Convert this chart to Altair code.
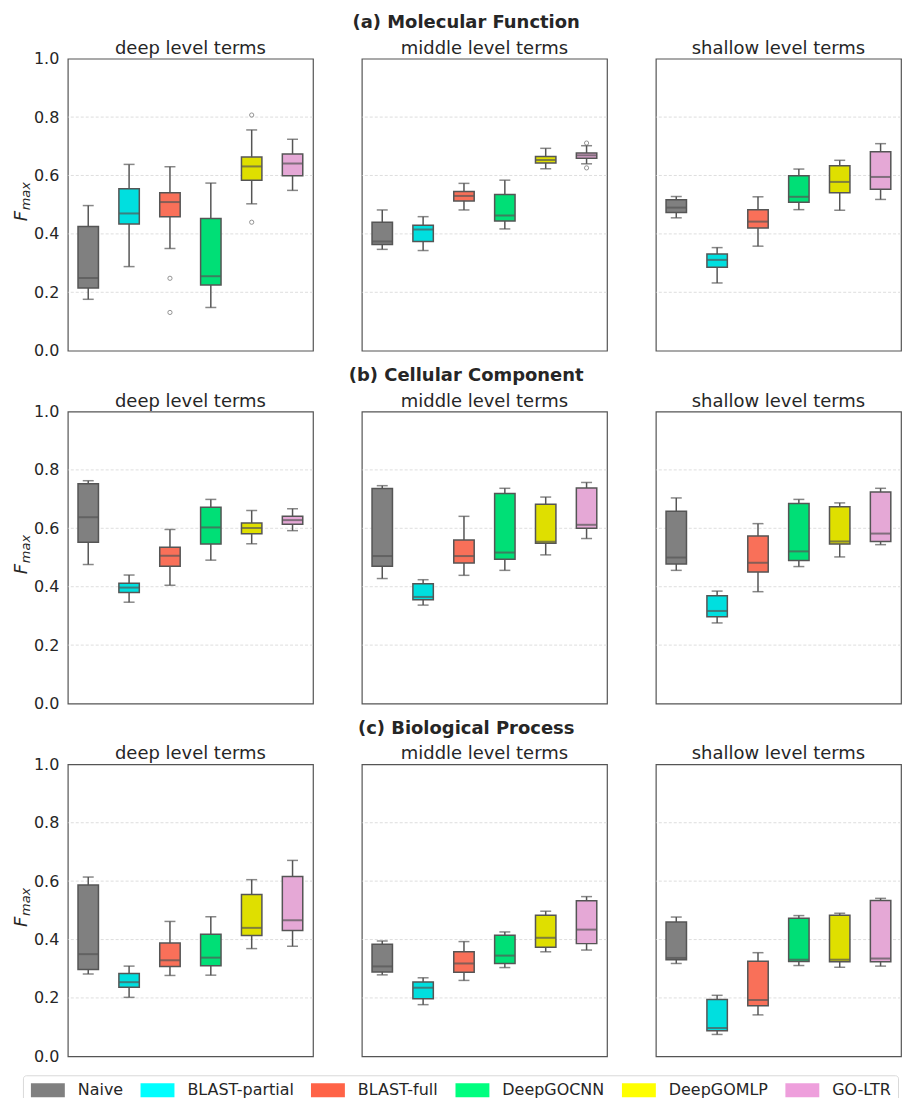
import altair as alt
import pandas as pd

methods = ["Naive", "BLAST-partial", "BLAST-full", "DeepGOCNN", "DeepGOMLP", "GO-LTR"]
box_colors = ["#808080", "#00dfdf", "#f97059", "#00df76", "#dfdf00", "#e5a8d6"]
legend_colors = ["#808080", "#00ffff", "#ff6347", "#00ff7f", "#ffff00", "#ee9fdc"]
sections = ["(a) Molecular Function", "(b) Cellular Component", "(c) Biological Process"]
levels = ["deep level terms", "middle level terms", "shallow level terms"]

# each row: [lower whisker, q1, median, q3, upper whisker] per method
mf_deep = [
    [0.176, 0.215, 0.249, 0.425, 0.497],
    [0.288, 0.434, 0.470, 0.555, 0.638],
    [0.350, 0.459, 0.509, 0.541, 0.630],
    [0.148, 0.225, 0.255, 0.453, 0.574],
    [0.503, 0.584, 0.631, 0.663, 0.756],
    [0.549, 0.599, 0.641, 0.674, 0.724],
]
mf_middle = [
    [0.347, 0.364, 0.374, 0.440, 0.482],
    [0.343, 0.374, 0.415, 0.430, 0.459],
    [0.482, 0.513, 0.530, 0.545, 0.573],
    [0.417, 0.444, 0.463, 0.535, 0.584],
    [0.623, 0.643, 0.653, 0.665, 0.693],
    [0.640, 0.659, 0.669, 0.677, 0.702],
]
mf_shallow = [
    [0.455, 0.473, 0.490, 0.517, 0.528],
    [0.232, 0.286, 0.311, 0.331, 0.353],
    [0.358, 0.420, 0.442, 0.483, 0.527],
    [0.483, 0.508, 0.527, 0.599, 0.622],
    [0.481, 0.541, 0.578, 0.633, 0.652],
    [0.518, 0.553, 0.595, 0.681, 0.709],
]
cc_deep = [
    [0.476, 0.552, 0.638, 0.753, 0.763],
    [0.347, 0.380, 0.397, 0.412, 0.440],
    [0.405, 0.470, 0.506, 0.535, 0.596],
    [0.491, 0.546, 0.603, 0.672, 0.699],
    [0.547, 0.581, 0.601, 0.618, 0.661],
    [0.592, 0.614, 0.628, 0.641, 0.667],
]
cc_middle = [
    [0.428, 0.470, 0.505, 0.736, 0.746],
    [0.337, 0.355, 0.365, 0.410, 0.424],
    [0.439, 0.481, 0.505, 0.560, 0.641],
    [0.456, 0.494, 0.517, 0.719, 0.737],
    [0.509, 0.549, 0.554, 0.682, 0.707],
    [0.565, 0.600, 0.612, 0.738, 0.757],
]
cc_shallow = [
    [0.456, 0.478, 0.500, 0.658, 0.704],
    [0.276, 0.297, 0.317, 0.369, 0.385],
    [0.383, 0.450, 0.482, 0.574, 0.616],
    [0.469, 0.490, 0.521, 0.685, 0.699],
    [0.502, 0.546, 0.555, 0.674, 0.687],
    [0.544, 0.555, 0.582, 0.724, 0.737],
]
bp_deep = [
    [0.282, 0.297, 0.350, 0.587, 0.614],
    [0.202, 0.237, 0.254, 0.284, 0.309],
    [0.277, 0.308, 0.329, 0.388, 0.462],
    [0.278, 0.310, 0.338, 0.418, 0.478],
    [0.369, 0.414, 0.440, 0.554, 0.605],
    [0.377, 0.431, 0.466, 0.616, 0.671],
]
bp_middle = [
    [0.279, 0.289, 0.308, 0.384, 0.395],
    [0.177, 0.197, 0.235, 0.255, 0.269],
    [0.260, 0.288, 0.318, 0.358, 0.393],
    [0.304, 0.318, 0.345, 0.415, 0.426],
    [0.358, 0.374, 0.406, 0.483, 0.497],
    [0.364, 0.386, 0.434, 0.533, 0.547],
]
bp_shallow = [
    [0.318, 0.331, 0.337, 0.460, 0.477],
    [0.075, 0.088, 0.097, 0.195, 0.209],
    [0.142, 0.173, 0.193, 0.326, 0.355],
    [0.311, 0.325, 0.331, 0.473, 0.482],
    [0.305, 0.324, 0.331, 0.483, 0.490],
    [0.309, 0.324, 0.335, 0.534, 0.541],
]
panels = [
    [mf_deep, mf_middle, mf_shallow],
    [cc_deep, cc_middle, cc_shallow],
    [bp_deep, bp_middle, bp_shallow],
]

# outliers: section index, level index, method, value
outlier_section = [0, 0, 0, 0, 0, 0]
outlier_level = [0, 0, 0, 0, 1, 1]
outlier_method = ["BLAST-full", "BLAST-full", "DeepGOMLP", "DeepGOMLP", "GO-LTR", "GO-LTR"]
outlier_value = [0.248, 0.131, 0.807, 0.440, 0.711, 0.626]

grid_values = [0.2, 0.4, 0.6, 0.8]
y_ticks = [0.0, 0.2, 0.4, 0.6, 0.8, 1.0]

PW, PH = 246, 293
FONT = "DejaVu Sans"
TXT = "#262626"
LINE = "#555555"


def panel(si, li):
    stats = panels[si][li]
    df = pd.DataFrame({
        "method": methods,
        "lo": [r[0] for r in stats],
        "q1": [r[1] for r in stats],
        "med": [r[2] for r in stats],
        "q3": [r[3] for r in stats],
        "hi": [r[4] for r in stats],
    })
    odf = pd.DataFrame({
        "method": [m for s, l, m in zip(outlier_section, outlier_level, outlier_method) if s == si and l == li],
        "v": [v for s, l, v in zip(outlier_section, outlier_level, outlier_value) if s == si and l == li],
    })
    yscale = alt.Scale(domain=[0, 1], nice=False, zero=False)
    if li == 0:
        yaxis = alt.Axis(values=y_ticks, format=".1f", grid=False, ticks=False, domain=False,
                         labelFontSize=16, labelFont=FONT, labelColor=TXT, labelPadding=9, title=None)
    else:
        yaxis = None

    def Y(f):
        return alt.Y(f"{f}:Q", scale=yscale, axis=yaxis)

    xenc = alt.X("method:N", sort=methods,
                 scale=alt.Scale(domain=methods, paddingInner=0, paddingOuter=0), axis=None)

    grid = alt.Chart(pd.DataFrame({"v": grid_values})).mark_rule(
        color="#d6d6d6", strokeDash=[3, 2], strokeWidth=0.8).encode(y=Y("v"))
    base = alt.Chart(df).encode(x=xenc)
    whisk = base.mark_rule(color=LINE, strokeWidth=1.5).encode(y=Y("lo"), y2="hi:Q")
    box = base.mark_bar(width=alt.RelativeBandSize(0.5), stroke=LINE, strokeWidth=1.5).encode(
        y=Y("q1"), y2="q3:Q",
        fill=alt.Fill("method:N", scale=alt.Scale(domain=methods, range=box_colors), legend=None))
    med = base.mark_tick(color=LINE, thickness=2, size=20).encode(y=Y("med"))
    cap_lo = base.mark_tick(color=LINE, thickness=1.5, size=11).encode(y=Y("lo"))
    cap_hi = base.mark_tick(color=LINE, thickness=1.5, size=11).encode(y=Y("hi"))
    layers = [grid, whisk, box, med, cap_lo, cap_hi]
    if len(odf):
        pts = alt.Chart(odf).mark_point(shape="circle", filled=False, size=18, color="#666666",
                                        strokeWidth=1).encode(x=xenc, y=Y("v"))
        layers.append(pts)
    if li == 0:
        one = pd.DataFrame({"a": [0]})
        f_txt = alt.Chart(one).mark_text(text="F", angle=270, fontSize=18, fontStyle="italic",
                                         font=FONT, color=TXT).encode(x=alt.value(-46), y=alt.value(158))
        m_txt = alt.Chart(one).mark_text(text="max", angle=270, fontSize=13, fontStyle="italic",
                                         font=FONT, color=TXT).encode(x=alt.value(-42), y=alt.value(138))
        layers += [f_txt, m_txt]
    if si == 2 and li == 0:
        leg = alt.Chart(pd.DataFrame({"method": methods})).mark_rect().encode(
            x=alt.value(0), x2=alt.value(0), y=alt.value(0), y2=alt.value(0),
            color=alt.Color("method:N", sort=methods,
                            scale=alt.Scale(domain=methods, range=legend_colors),
                            legend=alt.Legend(orient="none", legendX=-45, legendY=312,
                                              direction="horizontal", columns=6, title=None,
                                              symbolType="M-2.43,-1H2.43V1H-2.43Z", symbolSize=196,
                                              symbolOffset=10, symbolStrokeWidth=0,
                                              labelFontSize=16, labelFont=FONT,
                                              labelColor=TXT, labelOffset=22, columnPadding=16,
                                              padding=7, strokeColor="#d9d9d9", fillColor="white",
                                              cornerRadius=3)))
        layers.append(leg)
    return alt.layer(*layers).properties(
        width=PW, height=PH,
        title=alt.TitleParams(levels[li], fontSize=18, fontWeight="normal", font=FONT, color=TXT,
                              offset=(-7 if li == 0 else 1)))


rows = []
for si in range(3):
    rows.append(alt.hconcat(panel(si, 0), panel(si, 1), panel(si, 2), spacing=49, bounds="flush",
                            title=alt.TitleParams(sections[si], fontSize=18, fontWeight="bold", font=FONT,
                                                  color=TXT, anchor="middle", offset=7, dx=9))
                .resolve_scale(color="independent").resolve_legend(color="independent"))

chart = (alt.vconcat(*rows, spacing=7)
         .resolve_scale(color="independent").resolve_legend(color="independent")
         .properties(padding={"left": 4, "top": 4, "right": 4, "bottom": 5})
         .configure_view(stroke=LINE, strokeWidth=1.2))

chart.save("out.html", embed_options={"renderer": "svg", "actions": False})
